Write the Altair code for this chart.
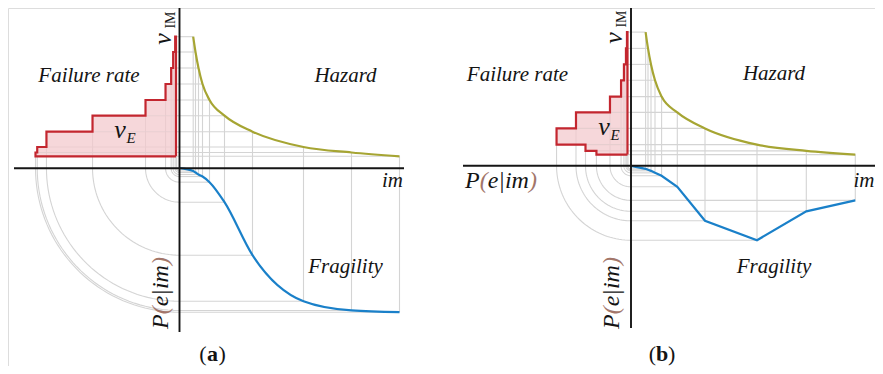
import math
import numpy as np
import pandas as pd
import altair as alt

# ---------------- data ----------------
# Panel (a): smooth fragility curve
im_a = [0.137, 0.160, 0.190, 0.230, 0.300, 0.450, 0.730, 1.240, 1.720, 2.200]
nu_a = [1.315, 1.162, 1.002, 0.842, 0.682, 0.525, 0.365, 0.212, 0.157, 0.119]
pe_a = [0.020, 0.030, 0.044, 0.058, 0.097, 0.236, 0.604, 0.924, 0.988, 1.000]
# Panel (b): non-monotone, piecewise fragility
im_b = [0.146, 0.170, 0.200, 0.240, 0.306, 0.463, 0.740, 1.260, 1.753, 2.243]
nu_b = [1.337, 1.174, 1.014, 0.855, 0.692, 0.534, 0.374, 0.212, 0.149, 0.112]
pe_b = [0.021, 0.028, 0.035, 0.049, 0.069, 0.146, 0.382, 0.517, 0.316, 0.240]

# ---------------- layout / style ----------------
PX_IM, PX_NU, PX_P = 100.0, 100.0, 144.0
ORIGIN_A = (179.5, 168.2)
ORIGIN_B = (631.0, 165.8)
GAP = 3.5
FONT = "Liberation Serif"
GREY = "#d4d4d4"
RED = "#c3262f"
PINK = "#f3c9cd"
OLIVE = "#a6a533"
BLUE = "#1a80c9"
BROWN = "#a3766a"
AXIS = "#151515"

xs = alt.Scale(domain=[8, 875], nice=False, zero=False)
ys = alt.Scale(domain=[8, 366], nice=False, zero=False, reverse=True)


def X(f="x"):
    return alt.X(f"{f}:Q", scale=xs, axis=None)


def Y(f="y"):
    return alt.Y(f"{f}:Q", scale=ys, axis=None)


layers = []


def panel(im, nu, pe, ox, oy, smooth):
    n = len(im)
    xi = [ox + v * PX_IM for v in im]
    yn = [oy - v * PX_NU for v in nu]
    rs = [p * PX_P for p in pe]
    yp = [oy + r for r in rs]

    seg = []
    for i in range(n):
        seg.append((xi[i], yn[i], xi[i], yp[i]))          # im line through both quadrants
        seg.append((ox, yp[i], xi[i], yp[i]))             # fragility level
        if i == 0:
            w = rs[1]
        elif i == n - 1:
            w = rs[n - 1]
        else:
            w = max(rs[i], rs[i + 1])
        seg.append((ox - w, yn[i], xi[i], yn[i]))         # hazard level
        top = yn[i] if i > 0 else yn[n - 1]
        seg.append((ox - rs[i], oy, ox - rs[i], top))     # transferred fragility
    segdf = pd.DataFrame(seg, columns=["x", "y", "x2", "y2"])

    arcs = []
    for i in range(n):
        for k, t in enumerate(np.linspace(0, math.pi / 2, 40)):
            arcs.append({"g": i, "o": k,
                         "x": ox - rs[i] * math.sin(t),
                         "y": oy + rs[i] * math.cos(t)})
    arcdf = pd.DataFrame(arcs)

    bands = pd.DataFrame({
        "x": [ox - rs[j + 1] for j in range(n - 1)],
        "x2": [ox - GAP] * (n - 1),
        "y": [yn[j] for j in range(n - 1)],
        "y2": [yn[j + 1] for j in range(n - 1)],
    })

    path = [(ox - GAP, yn[n - 1]), (ox - rs[n - 1], yn[n - 1])]
    for j in range(n - 2, -1, -1):
        path.append((ox - rs[j + 1], yn[j]))
        if j > 0:
            path.append((ox - rs[j], yn[j]))
    path.append((ox - GAP, yn[0]))
    path.append((ox - GAP, yn[n - 1]))
    pathdf = pd.DataFrame([{"o": k, "x": p[0], "y": p[1]} for k, p in enumerate(path)])

    hazdf = pd.DataFrame({"o": range(n), "x": xi, "y": yn})
    fragdf = pd.DataFrame({"o": range(n + 1), "x": [ox] + xi, "y": [oy] + yp})

    layers.append(alt.Chart(segdf).mark_rule(color=GREY, strokeWidth=1.1).encode(
        x=X(), y=Y(), x2="x2:Q", y2="y2:Q"))
    layers.append(alt.Chart(arcdf).mark_line(color=GREY, strokeWidth=1.1).encode(
        x=X(), y=Y(), detail="g:N", order="o:Q"))
    layers.append(alt.Chart(bands).mark_rect(color=PINK, opacity=0.75).encode(
        x=X(), x2="x2:Q", y=Y(), y2="y2:Q"))
    layers.append(alt.Chart(pathdf).mark_line(color=RED, strokeWidth=2.2).encode(
        x=X(), y=Y(), order="o:Q"))
    layers.append(alt.Chart(hazdf).mark_line(color=OLIVE, strokeWidth=2.2, interpolate="monotone").encode(
        x=X(), y=Y(), order="o:Q"))
    layers.append(alt.Chart(fragdf).mark_line(color=BLUE, strokeWidth=2.2,
                                             interpolate="monotone" if smooth else "linear").encode(
        x=X(), y=Y(), order="o:Q"))


panel(im_a, nu_a, pe_a, *ORIGIN_A, smooth=True)
panel(im_b, nu_b, pe_b, *ORIGIN_B, smooth=False)

# axes
axes = pd.DataFrame([
    (14, ORIGIN_A[1], 404, ORIGIN_A[1]),
    (ORIGIN_A[0], 8, ORIGIN_A[0], 332),
    (463, ORIGIN_B[1], 875, ORIGIN_B[1]),
    (ORIGIN_B[0], 8, ORIGIN_B[0], 328),
], columns=["x", "y", "x2", "y2"])
layers.append(alt.Chart(axes).mark_rule(color=AXIS, strokeWidth=1.9).encode(
    x=X(), y=Y(), x2="x2:Q", y2="y2:Q"))


def txt(s, x, y, size=21, italic=True, bold=False, angle=0, align="center",
        baseline="alphabetic", color="#141414"):
    df = pd.DataFrame({"x": [x], "y": [y], "t": [s]})
    kw = dict(font=FONT, fontSize=size, align=align, baseline=baseline, color=color)
    if italic:
        kw["fontStyle"] = "italic"
    if bold:
        kw["fontWeight"] = "bold"
    if angle:
        kw["angle"] = angle
    layers.append(alt.Chart(df).mark_text(**kw).encode(x=X(), y=Y(), text="t:N"))


W = {"P": 0.611, "(": 0.333, "e|im": 0.444 + 0.275 + 0.278 + 0.722, ")": 0.333}


def pe_label(x0, y0, size, rotated):
    pos = 0.0
    for piece, col in [("P", "#141414"), ("(", BROWN), ("e|im", "#141414"), (")", BROWN)]:
        if rotated:
            txt(piece, x0, y0 - pos, size=size, angle=270, align="left", color=col)
        else:
            txt(piece, x0 + pos, y0, size=size, align="left", color=col)
        pos += W[piece] * size


# Panel (a) labels
txt("Failure rate", 89, 82)
txt("Hazard", 345.5, 82)
txt("Fragility", 345.5, 273)
txt("im", 392.5, 187)
txt("ν", 120, 138, size=26)
txt("E", 126.5, 143, size=15, align="left")
txt("ν", 171, 39, size=26, angle=270)
txt("IM", 175, 20, size=14, italic=False, angle=270)
pe_label(168, 329, 24, True)
txt("(", 206.5, 361, size=22, italic=False, align="right")
txt("a", 212.5, 361, size=22, italic=False, bold=True)
txt(")", 218.5, 361, size=22, italic=False, align="left")

# Panel (b) labels
txt("Failure rate", 517.5, 81)
txt("Hazard", 774, 80)
txt("Fragility", 774, 273)
txt("im", 864, 187)
txt("ν", 604, 135, size=26)
txt("E", 610.5, 140, size=15, align="left")
txt("ν", 622, 38, size=26, angle=270)
txt("IM", 626, 19, size=14, italic=False, angle=270)
pe_label(619, 329, 24, True)
pe_label(465, 188, 24, False)
txt("(", 656, 361, size=22, italic=False, align="right")
txt("b", 662, 361, size=22, italic=False, bold=True)
txt(")", 668, 361, size=22, italic=False, align="left")

chart = alt.layer(*layers).properties(
    width=867, height=358, padding=0,
    autosize=alt.AutoSizeParams(type="none"),
).configure_view(stroke=None).configure(background="white")

chart.save("out.html", embed_options={"renderer": "svg", "actions": False})
